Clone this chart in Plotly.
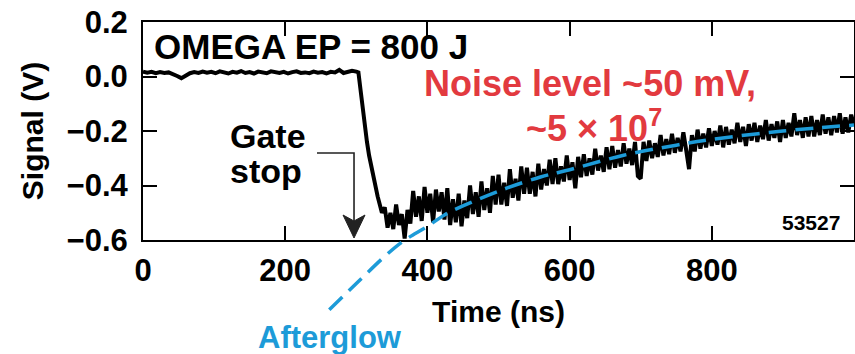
import plotly.graph_objects as go

# ---------------- data ----------------
# baseline before the gate stop
time_base_ns = [0, 6, 12, 18, 24, 30, 36, 42, 48, 54, 60, 66, 72, 78, 84, 90, 96,
                102, 108, 114, 120, 126, 132, 138, 144, 150, 156, 162, 168, 174,
                180, 186, 192, 198, 204, 210, 216, 222, 228, 234, 240, 246, 252,
                258, 264, 270, 276, 282, 288, 294, 300]
signal_base_v = [0.018, 0.014, 0.017, 0.012, 0.016, 0.013, 0.015, 0.010, 0.002, -0.006,
                 0.004, 0.012, 0.016, 0.013, 0.018, 0.014, 0.017, 0.012, 0.019, 0.015,
                 0.011, 0.017, 0.014, 0.020, 0.013, 0.016, 0.011, 0.018, 0.014, 0.012,
                 0.019, 0.015, 0.013, 0.017, 0.011, 0.016, 0.019, 0.013, 0.015, 0.012,
                 0.018, 0.014, 0.016, 0.011, 0.017, 0.015, 0.024, 0.013, 0.016, 0.021,
                 0.018]

# fast drop
time_drop_ns = [303, 306, 309, 312, 315, 318, 321, 324, 327, 330, 333, 336]
signal_drop_v = [0.015, -0.05, -0.12, -0.19, -0.24, -0.29, -0.33, -0.37, -0.41,
                 -0.44, -0.47, -0.50]

# noisy recovery (4 ns sampling)
time_tail_ns = [340, 344, 348, 352, 356, 360, 364, 368, 372, 376,
                380, 384, 388, 392, 396, 400, 404, 408, 412, 416,
                420, 424, 428, 432, 436, 440, 444, 448, 452, 456,
                460, 464, 468, 472, 476, 480, 484, 488, 492, 496,
                500, 504, 508, 512, 516, 520, 524, 528, 532, 536,
                540, 544, 548, 552, 556, 560, 564, 568, 572, 576,
                580, 584, 588, 592, 596, 600, 604, 608, 612, 616,
                620, 624, 628, 632, 636, 640, 644, 648, 652, 656,
                660, 664, 668, 672, 676, 680, 684, 688, 692, 696,
                700, 704, 708, 712, 716, 720, 724, 728, 732, 736,
                740, 744, 748, 752, 756, 760, 764, 768, 772, 776,
                780, 784, 788, 792, 796, 800, 804, 808, 812, 816,
                820, 824, 828, 832, 836, 840, 844, 848, 852, 856,
                860, 864, 868, 872, 876, 880, 884, 888, 892, 896,
                900, 904, 908, 912, 916, 920, 924, 928, 932, 936,
                940, 944, 948, 952, 956, 960, 964, 968, 972, 976,
                980, 984, 988, 992, 996, 1000]
signal_tail_v = [-0.480, -0.555, -0.500, -0.560, -0.470, -0.545, -0.505, -0.595, -0.490, -0.540,
                 -0.420, -0.515, -0.440, -0.530, -0.405, -0.500, -0.430, -0.535, -0.415, -0.495,
                 -0.425, -0.525, -0.410, -0.545, -0.450, -0.535, -0.430, -0.550, -0.455, -0.520,
                 -0.400, -0.505, -0.425, -0.515, -0.385, -0.490, -0.410, -0.500, -0.365, -0.470,
                 -0.360, -0.470, -0.390, -0.475, -0.340, -0.445, -0.375, -0.455, -0.330, -0.430,
                 -0.335, -0.430, -0.350, -0.440, -0.320, -0.415, -0.340, -0.400, -0.305, -0.395,
                 -0.300, -0.395, -0.330, -0.385, -0.290, -0.380, -0.315, -0.410, -0.295, -0.370,
                 -0.285, -0.365, -0.300, -0.360, -0.265, -0.345, -0.290, -0.350, -0.260, -0.340,
                 -0.255, -0.335, -0.270, -0.330, -0.245, -0.320, -0.265, -0.325, -0.240, -0.365,
                 -0.375, -0.240, -0.310, -0.235, -0.300, -0.245, -0.295, -0.215, -0.290, -0.230,
                 -0.285, -0.210, -0.280, -0.225, -0.275, -0.205, -0.270, -0.340, -0.215, -0.275,
                 -0.195, -0.265, -0.210, -0.260, -0.190, -0.255, -0.200, -0.250, -0.180, -0.260,
                 -0.185, -0.250, -0.195, -0.245, -0.170, -0.240, -0.185, -0.255, -0.175, -0.235,
                 -0.170, -0.240, -0.180, -0.230, -0.160, -0.235, -0.175, -0.225, -0.165, -0.240,
                 -0.160, -0.225, -0.170, -0.220, -0.135, -0.215, -0.160, -0.225, -0.150, -0.220,
                 -0.145, -0.220, -0.160, -0.215, -0.140, -0.210, -0.150, -0.215, -0.145, -0.205,
                 -0.135, -0.210, -0.150, -0.205, -0.140, -0.180]

# afterglow fit (blue dashed)
fit_time_ns = [262, 300, 340, 365, 400, 424, 450, 504, 559, 600, 676, 750, 800, 900, 1000]
fit_signal_v = [-0.856, -0.760, -0.660, -0.606, -0.550, -0.508, -0.475, -0.417, -0.369,
                -0.342, -0.289, -0.252, -0.231, -0.200, -0.178]

x_ticks = [0, 200, 400, 600, 800]
y_ticks = [-0.6, -0.4, -0.2, 0.0, 0.2]

time_ns = time_base_ns + time_drop_ns + time_tail_ns
signal_v = signal_base_v + signal_drop_v + signal_tail_v

# ---------------- layout geometry ----------------
W, H = 855, 354
ML, MR, MT, MB = 143, 1, 22, 0
AXIS_BOTTOM_PX = 240
plot_h = H - MT - MB
y_lo, y_hi = -0.6, 0.2
v_per_px = (y_hi - y_lo) / (AXIS_BOTTOM_PX - MT)
y_dom0 = (H - MB - AXIS_BOTTOM_PX) / plot_h
y2_lo = y_hi - plot_h * v_per_px

BLUE = '#1d9bd8'
RED = '#e23a3f'
INK = '#222222'
FONT = 'Liberation Sans, Arial, Helvetica, sans-serif'

fig = go.Figure()
fig.add_trace(go.Scatter(x=time_ns, y=signal_v, mode='lines',
                         line=dict(color='black', width=4),
                         xaxis='x', yaxis='y', showlegend=False, hoverinfo='skip'))
fig.add_trace(go.Scatter(x=fit_time_ns, y=fit_signal_v, mode='lines',
                         line=dict(color=BLUE, width=3.5, dash='18px,9px', shape='spline'),
                         xaxis='x', yaxis='y2', showlegend=False, hoverinfo='skip'))

axis_common = dict(showline=True, linewidth=2, linecolor='black', mirror='ticks',
                   ticks='inside', ticklen=14, tickwidth=2, tickcolor='black',
                   showgrid=False, zeroline=False, automargin=False)

fig.update_layout(
    width=W, height=H,
    margin=dict(l=ML, r=MR, t=MT, b=MB, autoexpand=False),
    paper_bgcolor='white', plot_bgcolor='rgba(0,0,0,0)',
    font=dict(family=FONT, size=30, color='black', weight='bold'),
    showlegend=False,
    xaxis=dict(range=[0, 1000], tickvals=x_ticks, anchor='y', ticklabelstandoff=2,
               tickfont=dict(size=31, weight='bold'),
               title=dict(text='Time (ns)', font=dict(size=30, weight='bold'), standoff=14),
               **axis_common),
    yaxis=dict(domain=[y_dom0, 1], range=[y_lo, y_hi], tickvals=y_ticks, tickformat='.1f',
               anchor='x', ticklabelstandoff=7,
               tickfont=dict(size=31, weight='bold'),
               title=dict(text='Signal (V)', font=dict(size=30, weight='bold'), standoff=14),
               **axis_common),
    yaxis2=dict(domain=[0, 1], range=[y2_lo, y_hi], anchor='x', visible=False,
                showgrid=False, zeroline=False, automargin=False),
)

ann = []
ann.append(dict(x=12.7, y=0.110, xref='x', yref='y2', xanchor='left', yanchor='middle',
                text='OMEGA EP = 800 J', showarrow=False,
                font=dict(size=35, color='black', family=FONT, weight='bold')))
ann.append(dict(x=628.7, y=-0.0275, xref='x', yref='y2', xanchor='center', yanchor='middle',
                text='Noise level ~50 mV,', showarrow=False,
                font=dict(size=36, color=RED, family=FONT, weight='bold')))
ann.append(dict(x=635, y=-0.183, xref='x', yref='y2', xanchor='center', yanchor='middle',
                text='~5 × 10<sup>7</sup>', showarrow=False,
                font=dict(size=36, color=RED, family=FONT, weight='bold')))
ann.append(dict(x=119.5, y=-0.218, xref='x', yref='y2', xanchor='left', yanchor='middle',
                text='Gate', showarrow=False,
                font=dict(size=34, color='black', family=FONT, weight='bold')))
ann.append(dict(x=119.5, y=-0.347, xref='x', yref='y2', xanchor='left', yanchor='middle',
                text='stop', showarrow=False,
                font=dict(size=34, color='black', family=FONT, weight='bold')))
ann.append(dict(x=263, y=-0.958, xref='x', yref='y2', xanchor='center', yanchor='middle',
                text='Afterglow', showarrow=False,
                font=dict(size=31, color=BLUE, family=FONT, weight='bold')))
ann.append(dict(x=983, y=-0.536, xref='x', yref='y2', xanchor='right', yanchor='middle',
                text='53527', showarrow=False,
                font=dict(size=21, color='black', family=FONT, weight='bold')))
fig.update_layout(annotations=ann)

# gate-stop pointer: bent line + barbed head
fig.add_shape(type='path', xref='x', yref='y2',
              path='M 244.7,-0.2807 L 296.8,-0.2807 L 296.8,-0.56',
              line=dict(color=INK, width=1.6))
fig.add_shape(type='path', xref='x', yref='y2',
              xsizemode='pixel', ysizemode='pixel', xanchor=296.8, yanchor=-0.5927,
              path='M 0,0 L -11,23 L 0,17 L 11,23 Z',
              line=dict(color=INK, width=1), fillcolor=INK)

fig.write_html('out.html')
